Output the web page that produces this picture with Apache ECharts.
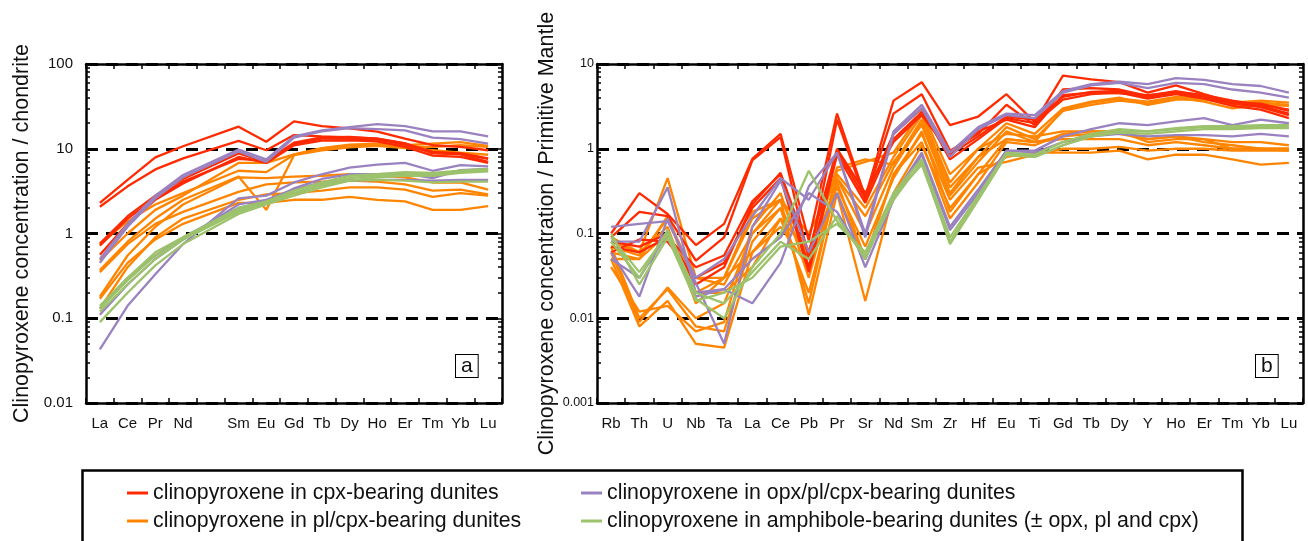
<!DOCTYPE html>
<html><head><meta charset="utf-8">
<script src="https://cdn.jsdelivr.net/npm/echarts@6/dist/echarts.min.js"></script>
<style>html,body{margin:0;padding:0;background:#fff}#c{width:1308px;height:541px}</style>
</head><body><div id="c"></div>
<script>
// ---------- categories ----------
const reeLabels = ['La','Ce','Pr','Nd','Pm','Sm','Eu','Gd','Tb','Dy','Ho','Er','Tm','Yb','Lu'];
const pmLabels = ['Rb','Th','U','Nb','Ta','La','Ce','Pb','Pr','Sr','Nd','Sm','Zr','Hf','Eu','Ti','Gd','Tb','Dy','Y','Ho','Er','Tm','Yb','Lu'];
const yTicksA = [0.01, 0.1, 1, 10, 100];
const yTicksB = [0.001, 0.01, 0.1, 1, 10];
const groupNames = [
  'clinopyroxene in cpx-bearing dunites',
  'clinopyroxene in pl/cpx-bearing dunites',
  'clinopyroxene in opx/pl/cpx-bearing dunites',
  'clinopyroxene in amphibole-bearing dunites (± opx, pl and cpx)'
];
const groupColors = ['#FF2A00', '#FF8400', '#9A82C0', '#9CC26C'];

// ---------- panel a : chondrite-normalised REE (La Ce Pr Nd Sm Eu Gd Tb Dy Ho Er Tm Yb Lu) ----------
const reeRed = [
  [2.3,4.3,7.9,10.7,18.2,12.1,21,18.5,17.4,15.9,13.2,11,10.5,9.6],
  [2.07,3.6,5.7,7.7,12.4,9.6,14.5,14,13.6,13.2,11.6,9.2,8.8,7.7],
  [0.76,1.6,2.8,4.4,8.8,7.0,11.5,13.2,13.2,12.8,11.2,9.0,8.8,7.6],
  [0.56,1.3,2.5,3.9,8.0,6.8,11.0,12.5,12.6,12.2,10.5,8.3,8.0,6.8],
  [0.72,1.5,2.6,4.1,7.6,7.2,11.8,13.6,13.8,13.2,11.6,8.8,8.6,7.0]
];
const reeOrange = [
  [0.75,1.4,2.2,3.0,5.5,5.3,8.5,10.0,11.0,11.0,10.5,10.5,11.0,10.5],
  [0.48,1.0,1.9,2.8,6.8,6.8,8.6,10.2,11.2,11.5,11.0,11.5,12.0,10.8],
  [0.37,0.8,1.5,2.5,4.7,1.9,8.4,9.6,10.4,10.8,10.2,9.6,9.0,8.5],
  [0.18,0.55,1.2,2.2,4.6,4.5,4.7,4.8,5.0,4.8,4.6,4.0,4.0,3.3],
  [0.35,0.75,1.3,1.8,3.1,3.8,4.0,4.1,4.2,4.1,3.8,3.2,3.3,2.9],
  [0.13,0.4,0.9,1.5,2.5,2.9,3.0,3.2,3.5,3.5,3.3,2.7,3.0,2.8],
  [0.17,0.45,0.85,1.3,2.3,2.3,2.5,2.5,2.7,2.5,2.4,1.9,1.9,2.1]
];
const reePurple = [
  [0.50,1.3,2.8,4.9,9.8,7.5,14.0,16.5,18.0,19.5,18.5,16.0,16.0,14.0],
  [0.45,1.2,2.6,4.6,9.3,7.0,13.5,16.0,17.5,17.0,16.5,13.5,13.0,11.5],
  [0.043,0.14,0.33,0.75,2.6,2.8,4.0,5.0,6.0,6.5,6.8,5.5,6.4,6.2],
  [0.11,0.25,0.5,0.85,2.2,2.5,3.3,4.0,4.2,4.3,4.3,4.2,4.3,4.3],
  [0.13,0.3,0.55,0.9,2.0,2.4,3.4,4.4,5.0,5.0,5.1,4.5,5.6,5.8]
];
const reeGreen = [
  [0.14,0.3,0.6,0.9,2.0,2.4,3.2,4.0,4.8,5.0,5.3,5.2,5.5,5.8],
  [0.12,0.25,0.5,0.85,1.9,2.3,3.0,3.8,4.5,4.8,5.0,5.0,5.3,5.5],
  [0.09,0.2,0.42,0.75,1.7,2.2,2.8,3.5,4.2,4.6,4.8,4.8,5.2,5.4],
  [0.13,0.28,0.55,0.85,1.8,2.3,3.0,3.7,4.2,4.3,4.2,4.0,4.1,4.1]
];

// ---------- panel b : primitive-mantle-normalised trace elements ----------
const pmRed = [
  [0.1,0.3,0.17,0.073,0.13,0.76,1.5,0.083,2.6,0.27,3.7,6.1,1.9,2.4,4.4,2.06,7.3,6.6,6.1,4.6,5.6,4.4,3.5,3.4,2.8],
  [0.09,0.18,0.16,0.048,0.09,0.73,1.37,0.05,2.2,0.25,2.6,4.4,0.95,1.5,3.3,1.9,5.0,5.2,5.0,4.2,4.8,4.2,3.6,3.2,2.6],
  [0.07,0.06,0.09,0.04,0.055,0.24,0.5,0.04,0.95,0.26,1.5,3.0,0.75,1.3,2.3,2.0,3.8,4.4,4.6,3.9,4.4,3.9,3.2,2.9,2.3],
  [0.06,0.085,0.08,0.03,0.045,0.2,0.45,0.035,0.85,0.23,1.3,2.7,0.85,1.4,2.4,2.2,4.1,4.7,4.8,4.1,4.6,4.1,3.4,3.1,2.5],
  [0.08,0.07,0.1,0.025,0.04,0.22,0.52,0.06,1.0,0.3,1.2,2.5,0.9,1.6,2.2,1.8,4.3,4.6,4.5,4.3,4.7,4.3,3.7,3.3,2.9]
];
const pmOrange = [
  [0.06,0.009,0.023,0.01,0.015,0.1,0.25,0.011,0.3,0.016,0.3,1.1,0.2,0.5,0.8,0.9,0.9,0.9,0.95,0.75,0.85,0.85,0.75,0.65,0.68],
  [0.05,0.008,0.016,0.005,0.0045,0.06,0.15,0.02,0.4,0.05,0.5,1.5,0.25,0.6,0.7,0.85,1.0,1.0,1.05,0.95,1.0,1.0,0.95,0.95,0.95],
  [0.07,0.01,0.022,0.008,0.007,0.08,0.2,0.015,0.45,0.1,0.6,2.0,0.3,0.8,1.3,1.2,1.3,1.3,1.3,1.1,1.2,1.1,1.0,1.0,1.0],
  [0.04,0.012,0.014,0.007,0.009,0.12,0.3,0.03,0.5,0.2,0.8,2.5,0.4,1.0,1.5,1.4,1.6,1.6,1.6,1.3,1.4,1.3,1.2,1.2,1.1],
  [0.08,0.06,0.45,0.03,0.03,0.15,0.25,0.06,0.55,0.7,0.9,2.8,0.5,1.0,2.0,1.5,3.0,3.6,4.0,3.3,3.8,3.8,3.5,3.7,3.5],
  [0.07,0.055,0.15,0.03,0.025,0.1,0.2,0.05,0.6,0.75,0.65,2.2,0.35,0.8,1.8,1.3,2.8,3.3,3.7,3.4,4.0,3.6,3.0,3.3,3.2],
  [0.06,0.05,0.16,0.02,0.03,0.18,0.25,0.1,0.45,0.16,0.7,1.9,0.28,0.7,1.6,1.2,2.9,3.5,3.9,3.6,4.1,3.9,3.3,3.5,3.3],
  [0.09,0.06,0.12,0.015,0.03,0.06,0.12,0.04,0.3,0.05,0.5,1.2,0.15,0.4,1.2,1.1,1.5,1.6,1.6,1.2,1.3,1.3,1.0,1.0,0.95],
  [0.05,0.05,0.1,0.02,0.02,0.04,0.15,0.06,0.35,0.07,0.45,1.6,0.18,0.5,1.3,1.2,1.4,1.5,1.5,1.3,1.4,1.2,1.1,1.0,1.0]
];
const pmPurple = [
  [0.12,0.13,0.14,0.03,0.05,0.16,0.45,0.25,0.9,0.1,1.6,3.3,0.9,1.8,2.6,2.5,4.8,5.8,6.2,5.8,6.8,6.5,5.8,5.5,4.6],
  [0.08,0.08,0.35,0.02,0.022,0.015,0.045,0.36,0.9,0.09,1.5,3.0,0.8,1.7,2.5,2.3,4.6,5.6,6.0,5.2,6.0,5.8,5.0,4.6,4.0],
  [0.06,0.018,0.15,0.026,0.005,0.12,0.42,0.06,0.3,0.04,0.25,0.85,0.11,0.3,0.95,0.95,1.4,1.7,2.0,1.9,2.1,2.3,1.9,2.2,2.0],
  [0.05,0.03,0.1,0.018,0.022,0.05,0.09,0.3,0.18,0.05,0.28,0.9,0.12,0.33,0.95,0.9,1.2,1.4,1.5,1.4,1.45,1.45,1.4,1.5,1.4]
];
const pmGreen = [
  [0.09,0.035,0.1,0.017,0.01,0.04,0.1,0.55,0.14,0.055,0.25,0.7,0.075,0.25,0.85,0.8,1.1,1.4,1.6,1.6,1.7,1.8,1.8,1.8,1.8],
  [0.1,0.025,0.09,0.016,0.02,0.03,0.07,0.08,0.13,0.06,0.3,0.75,0.09,0.28,0.9,0.85,1.2,1.5,1.7,1.6,1.75,1.85,1.85,1.9,1.9],
  [0.08,0.03,0.11,0.02,0.015,0.035,0.08,0.05,0.16,0.05,0.28,0.65,0.08,0.26,0.85,0.8,1.1,1.4,1.55,1.5,1.6,1.7,1.7,1.75,1.75]
];

// ---------- build ----------
const FONT = '"Liberation Sans", Arial, sans-serif';
const BLACK = '#000';
function minorVals(lo, hi) {
  const out = [];
  for (let e = lo; e < hi; e++) for (let k = 2; k <= 9; k++) out.push(+(k * Math.pow(10, e)).toPrecision(6));
  return out;
}
function catAxis(grid, labels, pos, showLabels, fontSize) {
  return {
    type: 'category', gridIndex: grid, position: pos, data: labels, boundaryGap: true,
    axisLine: { show: true, lineStyle: { color: BLACK, width: 2.5 } },
    axisTick: { show: true, inside: true, length: 5, interval: 0, lineStyle: { color: BLACK, width: 1.5 } },
    axisLabel: { show: showLabels, interval: 0, margin: 13, color: '#111', fontFamily: FONT, fontSize: fontSize,
      formatter: v => (v === 'Pm' ? '' : v) },
    splitLine: { show: false }
  };
}
function logAxis(grid, min, max, pos, opts) {
  const base = {
    type: 'log', logBase: 10, gridIndex: grid, position: pos, min: min, max: max,
    axisLine: { show: false }, axisLabel: { show: false }, splitLine: { show: false },
    axisTick: { show: false }
  };
  return Object.assign(base, opts);
}
function majorAxis(grid, min, max, pos, withLabels, name, nameGap, fs, margin, ticks) {
  return logAxis(grid, min, max, pos, {
    axisLine: { show: true, lineStyle: { color: BLACK, width: 2.5 } },
    axisTick: { show: true, inside: true, length: 6, customValues: ticks, lineStyle: { color: BLACK, width: 1.5 } },
    axisLabel: withLabels ? { show: true, customValues: ticks, margin: margin, color: '#111', fontFamily: FONT, fontSize: fs,
      formatter: v => String(+v.toPrecision(3)) } : { show: false },
    splitLine: withLabels ? { show: true, lineStyle: { color: BLACK, width: 3, type: [12, 8] } } : { show: false },
    name: name || '', nameLocation: 'middle', nameRotate: 90, nameGap: nameGap || 0, nameMoveOverlap: false,
    nameTextStyle: { color: '#111', fontFamily: FONT, fontSize: 21.5 }
  });
}
function minorAxis(grid, min, max, pos, lo, hi) {
  return logAxis(grid, min, max, pos, {
    axisTick: { show: true, inside: true, length: 4, customValues: minorVals(lo, hi), lineStyle: { color: BLACK, width: 1.5 } }
  });
}

const series = [];
function addGroup(arrays, gi, grid, withPmGap) {
  arrays.forEach(v => {
    const data = withPmGap ? [...v.slice(0, 4), null, ...v.slice(4)] : v.slice();
    series.push({
      type: 'line', name: groupNames[gi], data: data, connectNulls: true,
      xAxisIndex: grid * 2, yAxisIndex: grid * 4,
      symbol: 'none', silent: true, animation: false,
      lineStyle: { color: groupColors[gi], width: 2.3 }, itemStyle: { color: groupColors[gi] }
    });
  });
}
// draw order: orange, red, purple, green
addGroup(reeOrange, 1, 0, true); addGroup(reeRed, 0, 0, true); addGroup(reePurple, 2, 0, true); addGroup(reeGreen, 3, 0, true);
addGroup(pmOrange, 1, 1, false); addGroup(pmRed, 0, 1, false); addGroup(pmPurple, 2, 1, false); addGroup(pmGreen, 3, 1, false);

function legendItem(idx, left, top) {
  return { left: left, top: top, orient: 'horizontal', itemGap: 6, itemWidth: 21, itemHeight: 3, icon: 'rect',
    data: [groupNames[idx]], selectedMode: false, padding: 0,
    textStyle: { fontFamily: FONT, fontSize: 21.3, color: '#111', lineHeight: 22 } };
}

const option = {
  backgroundColor: '#fff',
  animation: false,
  grid: [
    { left: 86, top: 64, width: 416, height: 339, outerBoundsMode: 'none', containLabel: false },
    { left: 597, top: 64, width: 706, height: 339, outerBoundsMode: 'none', containLabel: false }
  ],
  xAxis: [
    catAxis(0, reeLabels, 'bottom', true, 15), catAxis(0, reeLabels, 'top', false, 15),
    catAxis(1, pmLabels, 'bottom', true, 15), catAxis(1, pmLabels, 'top', false, 15)
  ],
  yAxis: [
    majorAxis(0, 0.01, 100, 'left', true, 'Clinopyroxene concentration / chondrite', 53, 15, 13, yTicksA),
    minorAxis(0, 0.01, 100, 'left', -2, 2),
    majorAxis(0, 0.01, 100, 'right', false, '', 0, 15, 13, yTicksA),
    minorAxis(0, 0.01, 100, 'right', -2, 2),
    majorAxis(1, 0.001, 10, 'left', true, 'Clinopyroxene concentration / Primitive Mantle', 39, 12.5, 3, yTicksB),
    minorAxis(1, 0.001, 10, 'left', -3, 1),
    majorAxis(1, 0.001, 10, 'right', false, '', 0, 12.5, 3, yTicksB),
    minorAxis(1, 0.001, 10, 'right', -3, 1)
  ],
  legend: [
    legendItem(0, 127, 482), legendItem(1, 127, 510),
    legendItem(2, 581, 482), legendItem(3, 581, 510)
  ],
  graphic: [
    { type: 'rect', left: 80, top: 468, shape: { width: 1160, height: 120 }, silent: true,
      style: { fill: 'none', stroke: BLACK, lineWidth: 2.5 } },
    { type: 'text', left: 455, top: 354, silent: true,
      style: { text: 'a', fontFamily: FONT, fontSize: 21, fill: '#111', borderColor: BLACK, borderWidth: 1, padding: [0, 5, 0, 5], lineHeight: 22, backgroundColor: '#fff' } },
    { type: 'text', left: 1255, top: 354, silent: true,
      style: { text: 'b', fontFamily: FONT, fontSize: 21, fill: '#111', borderColor: BLACK, borderWidth: 1, padding: [0, 5, 0, 5], lineHeight: 22, backgroundColor: '#fff' } }
  ],
  series: series
};
const chart = echarts.init(document.getElementById('c'), null, { renderer: 'canvas' });
chart.setOption(option);
</script></body></html>
